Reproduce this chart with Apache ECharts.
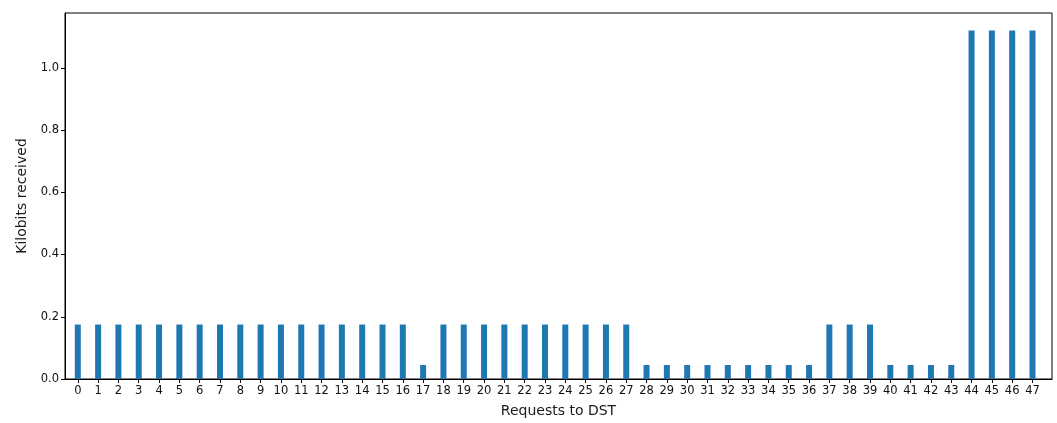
<!DOCTYPE html>
<html>
<head>
<meta charset="utf-8">
<script src="https://cdn.jsdelivr.net/npm/echarts@6/dist/echarts.min.js"></script>
<style>html,body{margin:0;padding:0;background:#fff}#c{width:1057px;height:423px}</style>
</head>
<body>
<div id="c"></div>
<script>
const categories = [0,1,2,3,4,5,6,7,8,9,10,11,12,13,14,15,16,17,18,19,20,21,22,23,24,25,26,27,28,29,30,31,32,33,34,35,36,37,38,39,40,41,42,43,44,45,46,47];
const kilobits = [0.175,0.175,0.175,0.175,0.175,0.175,0.175,0.175,0.175,0.175,0.175,0.175,0.175,0.175,0.175,0.175,0.175,0.045,0.175,0.175,0.175,0.175,0.175,0.175,0.175,0.175,0.175,0.175,0.045,0.045,0.045,0.045,0.045,0.045,0.045,0.045,0.045,0.175,0.175,0.175,0.045,0.045,0.045,0.045,1.12,1.12,1.12,1.12];
const yTicks = [0, 0.2, 0.4, 0.6, 0.8, 1.0];

const chart = echarts.init(document.getElementById('c'), null, {renderer: 'canvas'});
const font = 'DejaVu Sans';
chart.setOption({
  animation: false,
  backgroundColor: '#fff',
  grid: {left: 65, right: 5, top: 13, bottom: 42, show: true, borderColor: '#000', borderWidth: 1, backgroundColor: 'transparent'},
  xAxis: {
    type: 'value', min: -0.63, max: 47.96,
    name: 'Requests to DST', nameLocation: 'middle', nameGap: 25,
    nameTextStyle: {fontFamily: font, fontSize: 14, color: '#1a1a1a'},
    axisLine: {show: true, onZero: false, lineStyle: {color: '#000', width: 1}},
    axisTick: {show: true, length: 4, lineStyle: {color: '#000'}, customValues: categories},
    axisLabel: {fontFamily: font, fontSize: 11.5, color: '#111', margin: 6, customValues: categories, formatter: v => String(v)},
    splitLine: {show: false}
  },
  yAxis: {
    type: 'value', min: 0, max: 1.176,
    name: 'Kilobits received', nameLocation: 'middle', nameGap: 33,
    nameTextStyle: {fontFamily: font, fontSize: 14, color: '#1a1a1a'},
    axisLine: {show: true, onZero: false, lineStyle: {color: '#000', width: 1}},
    axisTick: {show: true, length: 4, lineStyle: {color: '#000'}, customValues: yTicks},
    axisLabel: {fontFamily: font, fontSize: 11.5, color: '#111', margin: 6, customValues: yTicks, formatter: v => v.toFixed(1)},
    splitLine: {show: false}
  },
  series: [{
    type: 'bar',
    data: categories.map((c, i) => [c, kilobits[i]]),
    barWidth: 6,
    itemStyle: {color: '#1f77b4'}
  }]
});
</script>
</body>
</html>
